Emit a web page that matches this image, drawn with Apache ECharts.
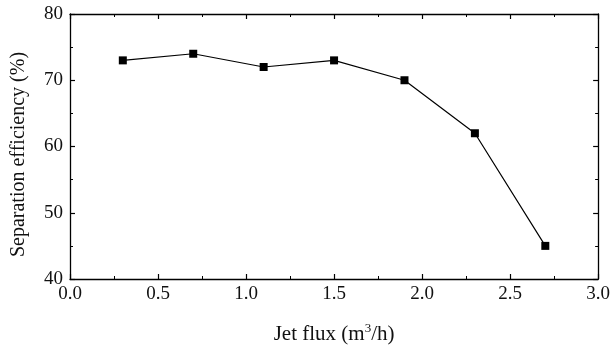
<!DOCTYPE html>
<html><head><meta charset="utf-8">
<script src="https://cdn.jsdelivr.net/npm/echarts@6/dist/echarts.min.js"></script>
<style>html,body{margin:0;padding:0;background:#fff}#c{width:613px;height:353px}</style>
</head><body><div id="c"></div>
<script>
const jetFlux = [0.3, 0.7, 1.1, 1.5, 1.9, 2.3, 2.7];
const efficiency = [73, 74, 72, 73, 70, 62, 45];
const xTicks = [0.0, 0.5, 1.0, 1.5, 2.0, 2.5, 3.0];
const yTicks = [40, 50, 60, 70, 80];

const font = 'Liberation Serif';
const axisCommon = {
  axisLine: {show: true, onZero: false, lineStyle: {color: '#000', width: 1.3}},
  axisTick: {show: true, inside: true, length: 5, lineStyle: {color: '#000', width: 1.2}},
  minorTick: {show: true, splitNumber: 2, length: 3, lineStyle: {color: '#000', width: 1}},
  splitLine: {show: false}
};
const chart = echarts.init(document.getElementById('c'), null, {renderer: 'canvas'});
chart.setOption({
  animation: false,
  grid: {left: 70, right: 13, top: 14, bottom: 74, containLabel: false},
  xAxis: [
    Object.assign({}, axisCommon, {
      type: 'value', min: xTicks[0], max: xTicks[xTicks.length-1], interval: 0.5,
      position: 'bottom',
      axisLabel: {color: '#111', fontFamily: font, fontSize: 19, margin: 6, formatter: v => v.toFixed(1)},
      name: '{a|Jet flux (m}{s|3}{a|/h)}', nameLocation: 'middle', nameGap: 43,
      nameTextStyle: {rich: {a: {fontFamily: font, fontSize: 21, color: '#111'}, s: {fontFamily: font, fontSize: 13, color: '#111', verticalAlign: 'top', padding: [0,0,11,0]}}}
    }),
    Object.assign({}, axisCommon, {
      type: 'value', min: xTicks[0], max: xTicks[xTicks.length-1], interval: 0.5,
      position: 'top', axisLabel: {show: false}
    })
  ],
  yAxis: [
    Object.assign({}, axisCommon, {
      type: 'value', min: yTicks[0], max: yTicks[yTicks.length-1], interval: 10,
      position: 'left',
      axisLabel: {color: '#111', fontFamily: font, fontSize: 19, margin: 7},
      name: 'Separation efficiency (%)', nameLocation: 'middle', nameGap: 41,
      nameTextStyle: {fontFamily: font, fontSize: 20, color: '#111', padding: [0, 16, 0, 0]}
    }),
    Object.assign({}, axisCommon, {
      type: 'value', min: yTicks[0], max: yTicks[yTicks.length-1], interval: 10,
      position: 'right', axisLabel: {show: false}
    })
  ],
  series: [{
    type: 'line',
    data: jetFlux.map((x, i) => [x, efficiency[i]]),
    symbol: 'rect', symbolSize: 8,
    lineStyle: {color: '#000', width: 1.2},
    itemStyle: {color: '#000'}
  }]
});
</script></body></html>
